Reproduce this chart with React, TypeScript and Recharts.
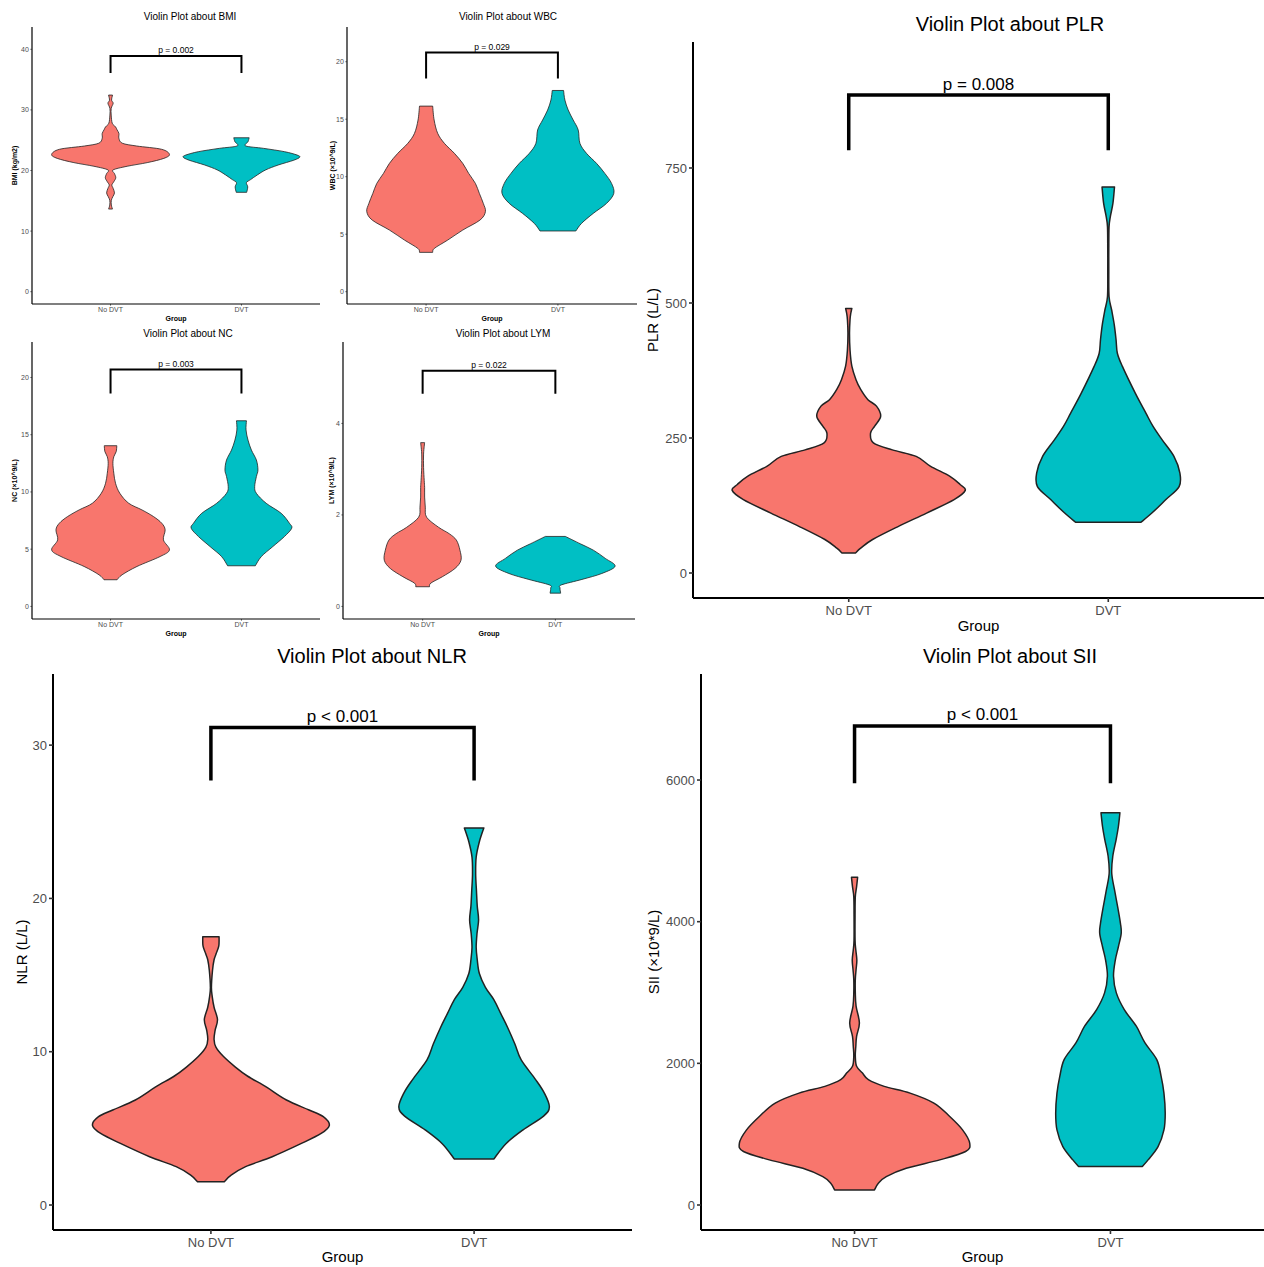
import React from "react";
import { ScatterChart, Scatter, XAxis, YAxis } from "recharts";

const FONT = '"Liberation Sans", Arial, Helvetica, sans-serif';

const groups = ["No DVT", "DVT"];
const fills = ["#F8766D", "#00BFC4"];

// violin outlines: [value, half width in x units]
type Profile = [number, number][];

const bmiNoDvt: Profile = [
  [13.64, 0.015], [14.3, 0.006], [15.1, 0.006], [15.7, 0.018], [16.3, 0.03], [17.05, 0.02], [17.6, 0.01],
  [18.15, 0.025], [18.8, 0.04], [19.5, 0.03], [20.1, 0.02], [20.7, 0.127], [21.3, 0.28], [22.0, 0.407],
  [22.66, 0.45], [23.5, 0.39], [24.04, 0.2], [24.5, 0.09], [25.3, 0.064], [26.1, 0.064], [26.7, 0.05],
  [27.2, 0.038], [27.8, 0.013], [29.15, 0.005], [30.25, 0.005], [31.1, 0.02], [31.6, 0.008], [32.45, 0.015],
];
const bmiDvt: Profile = [
  [16.4, 0.04], [17.3, 0.048], [18.0, 0.038], [18.5, 0.07], [19.25, 0.12], [20.1, 0.185], [20.9, 0.28],
  [21.7, 0.4], [22.2, 0.445], [22.55, 0.425], [23.1, 0.33], [23.65, 0.17], [24.05, 0.033], [24.75, 0.05],
  [25.4, 0.059],
];
const wbcNoDvt: Profile = [
  [3.42, 0.05], [3.77, 0.063], [4.49, 0.164], [5.36, 0.278], [6.23, 0.409], [6.96, 0.45], [7.68, 0.434],
  [8.55, 0.404], [9.42, 0.374], [10.29, 0.323], [11.16, 0.278], [12.03, 0.215], [12.9, 0.139],
  [13.77, 0.088], [14.93, 0.061], [16.14, 0.05],
];
const wbcDvt: Profile = [
  [5.28, 0.136], [5.94, 0.179], [6.81, 0.268], [7.68, 0.369], [8.55, 0.424], [9.42, 0.407], [10.29, 0.356],
  [11.16, 0.293], [12.03, 0.217], [12.9, 0.167], [14.06, 0.154], [14.93, 0.116], [15.8, 0.078],
  [16.67, 0.053], [17.5, 0.043],
];
const ncNoDvt: Profile = [
  [2.33, 0.05], [2.76, 0.088], [3.49, 0.202], [4.36, 0.379], [4.94, 0.45], [5.81, 0.404], [6.69, 0.417],
  [7.27, 0.391], [7.85, 0.328], [8.43, 0.24], [9.01, 0.139], [9.88, 0.071], [10.76, 0.038], [11.63, 0.025],
  [12.5, 0.018], [13.08, 0.025], [13.52, 0.043], [14.04, 0.048],
];
const ncDvt: Profile = [
  [3.55, 0.106], [4.36, 0.152], [5.23, 0.24], [6.1, 0.328], [6.83, 0.384], [7.27, 0.366], [8.14, 0.303],
  [9.01, 0.189], [9.88, 0.114], [10.47, 0.101], [11.34, 0.114], [11.92, 0.126], [12.79, 0.114],
  [13.66, 0.076], [14.53, 0.05], [15.41, 0.035], [16.22, 0.038],
];
const lymNoDvt: Profile = [
  [0.43, 0.052], [0.51, 0.062], [0.65, 0.149], [0.83, 0.244], [1.01, 0.289], [1.23, 0.281], [1.45, 0.254],
  [1.59, 0.2], [1.73, 0.12], [1.95, 0.03], [2.17, 0.02], [2.39, 0.015], [2.6, 0.015], [2.75, 0.012],
  [3.04, 0.007], [3.33, 0.007], [3.5, 0.012], [3.58, 0.015],
];
const lymDvt: Profile = [
  [0.29, 0.04], [0.4, 0.035], [0.47, 0.045], [0.59, 0.2], [0.72, 0.35], [0.88, 0.45], [1.05, 0.376],
  [1.23, 0.286], [1.37, 0.187], [1.53, 0.075],
];
const plrNoDvt: Profile = [
  [37, 0.026], [46, 0.046], [62, 0.092], [86, 0.19], [111, 0.3], [136, 0.406], [153, 0.449], [164, 0.429],
  [179, 0.39], [198, 0.314], [216, 0.26], [228, 0.168], [241, 0.095], [259, 0.084], [272, 0.1], [290, 0.123],
  [309, 0.107], [321, 0.074], [340, 0.046], [358, 0.028], [383, 0.012], [413, 0.005], [444, 0.003],
  [469, 0.005], [481, 0.008], [490, 0.012],
];
const plrDvt: Profile = [
  [94, 0.126], [111, 0.168], [136, 0.222], [160, 0.273], [185, 0.276], [216, 0.253], [247, 0.207],
  [272, 0.172], [296, 0.145], [333, 0.104], [383, 0.054], [407, 0.035], [432, 0.03], [460, 0.023],
  [487, 0.013], [512, 0.003], [560, 0.002], [600, 0.002], [641, 0.003], [660, 0.008], [685, 0.018],
  [715, 0.024],
];
const nlrNoDvt: Profile = [
  [1.52, 0.051], [1.96, 0.078], [2.5, 0.132], [3.15, 0.233], [4.0, 0.342], [4.67, 0.419], [5.2, 0.45],
  [5.76, 0.427], [6.2, 0.373], [6.85, 0.287], [7.7, 0.21], [8.4, 0.14], [9.0, 0.093], [9.7, 0.047],
  [10.3, 0.019], [10.8, 0.012], [11.4, 0.016], [12.1, 0.025], [12.9, 0.012], [13.6, 0.005], [14.2, 0.002],
  [15.3, 0.006], [16.0, 0.012], [16.4, 0.02], [16.9, 0.03], [17.5, 0.031],
];
const nlrDvt: Profile = [
  [3.0, 0.075], [4.0, 0.121], [4.9, 0.186], [5.8, 0.264], [6.4, 0.286], [7.3, 0.267], [8.2, 0.233],
  [9.46, 0.179], [10.5, 0.155], [11.6, 0.127], [12.5, 0.101], [13.4, 0.075], [14.2, 0.043], [15.1, 0.02],
  [16.0, 0.012], [16.8, 0.008], [17.7, 0.011], [18.6, 0.017], [19.5, 0.012], [20.5, 0.009], [21.6, 0.006],
  [22.7, 0.008], [23.7, 0.02], [24.6, 0.037],
];
const siiNoDvt: Profile = [
  [212, 0.078], [307, 0.093], [401, 0.124], [519, 0.202], [637, 0.333], [755, 0.434], [873, 0.45],
  [1061, 0.422], [1250, 0.372], [1439, 0.31], [1580, 0.217], [1675, 0.116], [1769, 0.054], [1863, 0.031],
  [1958, 0.008], [2099, 0.003], [2241, 0.005], [2382, 0.008], [2571, 0.019], [2807, 0.006], [2995, 0.003],
  [3184, 0.003], [3325, 0.006], [3458, 0.009], [3599, 0.005], [3740, 0.002], [4100, 0.002], [4354, 0.003],
  [4495, 0.008], [4627, 0.012],
];
const siiDvt: Profile = [
  [542, 0.124], [637, 0.147], [825, 0.186], [1061, 0.209], [1297, 0.214], [1580, 0.209], [1816, 0.198],
  [2052, 0.181], [2288, 0.135], [2524, 0.101], [2759, 0.054], [2995, 0.023], [3231, 0.012], [3458, 0.019],
  [3646, 0.031], [3835, 0.042], [3976, 0.039], [4212, 0.028], [4448, 0.016], [4684, 0.005], [4920, 0.009],
  [5156, 0.022], [5344, 0.031], [5538, 0.037],
];

// axis ticks
const bmiTicks = [0, 10, 20, 30, 40];
const wbcTicks = [0, 5, 10, 15, 20];
const ncTicks = [0, 5, 10, 15, 20];
const lymTicks = [0, 2, 4];
const plrTicks = [0, 250, 500, 750];
const nlrTicks = [0, 10, 20, 30];
const siiTicks = [0, 2000, 4000, 6000];

// significance brackets: [leg end, bar]
const bmiBracket = [36.1, 38.9];
const wbcBracket = [18.55, 20.8];
const ncBracket = [18.6, 20.7];
const lymBracket = [4.65, 5.15];
const plrBracket = [783, 885];
const nlrBracket = [27.7, 31.15];
const siiBracket = [5955, 6763];

const pLabels = ["p = 0.002", "p = 0.029", "p = 0.003", "p = 0.022", "p = 0.008", "p < 0.001", "p < 0.001"];

const small = { title: 10, tick: 7, axisTitle: 7, axisBold: 700, p: 8.5, axisW: 1.2, tickLen: 1.5, tickGap: 1.6, bracketW: 2, violinW: 0.8, pGap: 2.5 };
const big = { title: 20, tick: 13, axisTitle: 15, axisBold: 400, p: 17, axisW: 2, tickLen: 4, tickGap: 2, bracketW: 3.5, violinW: 1.5, pGap: 5.5 };

type Pt = { x: number; y: number };

const outline = (profile: Profile, center: number): Pt[] => [
  ...profile.map(([v, w]) => ({ x: center + w, y: v })),
  ...[...profile].reverse().map(([v, w]) => ({ x: center - w, y: v })),
];

// catmull-rom through one side of the violin
const spline = (pts: Pt[]) => {
  let d = "";
  for (let i = 0; i < pts.length - 1; i++) {
    const p0 = pts[i - 1] || pts[i];
    const p1 = pts[i];
    const p2 = pts[i + 1];
    const p3 = pts[i + 2] || p2;
    d += ` C${p1.x + (p2.x - p0.x) / 6},${p1.y + (p2.y - p0.y) / 6} ${p2.x - (p3.x - p1.x) / 6},${p2.y - (p3.y - p1.y) / 6} ${p2.x},${p2.y}`;
  }
  return d;
};

const violinLine = (fill: string, sw: number) => (props: any) => {
  const pts = (props.points || []) as Pt[];
  if (pts.length < 4) return <g />;
  const n = pts.length / 2;
  const right = pts.slice(0, n);
  const left = pts.slice(n);
  const d = `M${right[0].x},${right[0].y}${spline(right)} L${left[0].x},${left[0].y}${spline(left)} Z`;
  return <path d={d} fill={fill} stroke="#222" strokeWidth={sw} strokeLinejoin="round" />;
};

const noDot = () => <g />;

const pText = (label: string, fs: number, gap: number) => (props: any) => (
  <text x={props.cx} y={props.cy - gap} textAnchor="middle" fontSize={fs} fontFamily={FONT} fill="#000">
    {label}
  </text>
);

interface Box {
  cl: number; x0: number; x1: number; y0: number; y1: number; xh: number;
  labelX: number; groupOffset: number; titleX: number; titleY: number;
}

interface PanelProps {
  title: string;
  yLabel: string;
  ticks: number[];
  domain: [number, number];
  violins: Profile[];
  bracket: number[];
  pLabel: string;
  box: Box;
  isBig?: boolean;
}

const ViolinPanel = ({ title, yLabel, ticks, domain, violins, bracket, pLabel, box, isBig }: PanelProps) => {
  const s = isBig ? big : small;
  const width = box.x1 - box.cl;
  const height = box.y1 - box.y0 + box.xh;
  const bracketData = [
    { x: 1, y: bracket[0] },
    { x: 1, y: bracket[1] },
    { x: 2, y: bracket[1] },
    { x: 2, y: bracket[0] },
  ];
  return (
    <>
      <div
        style={{
          position: "absolute",
          left: box.titleX - 200,
          width: 400,
          top: box.titleY - s.title * 0.49,
          fontSize: s.title,
          lineHeight: `${s.title}px`,
          textAlign: "center",
          fontFamily: FONT,
          color: "#000",
          whiteSpace: "nowrap",
        }}
      >
        {title}
      </div>
      <div style={{ position: "absolute", left: box.cl, top: box.y0 }}>
        <ScatterChart width={width} height={height} margin={{ top: 0, right: 0, bottom: 0, left: 0 }}>
          <XAxis
            type="number"
            dataKey="x"
            domain={[0.4, 2.6]}
            ticks={[1, 2]}
            interval={0}
            allowDataOverflow
            height={box.xh}
            tickFormatter={(v: number) => groups[Math.round(v) - 1]}
            tick={{ fill: "#4D4D4D", fontSize: s.tick, fontFamily: FONT }}
            tickSize={s.tickLen}
            tickMargin={isBig ? 3.3 : 1.8}
            tickLine={{ stroke: "#333", strokeWidth: s.axisW * 0.8 }}
            axisLine={{ stroke: "#000", strokeWidth: s.axisW }}
            label={{
              value: "Group",
              position: "insideBottom",
              offset: box.groupOffset,
              fill: "#000",
              fontSize: s.axisTitle,
              fontWeight: s.axisBold,
              fontFamily: FONT,
            }}
          />
          <YAxis
            type="number"
            dataKey="y"
            domain={domain}
            ticks={ticks}
            interval={0}
            allowDataOverflow
            width={box.x0 - box.cl}
            tick={{ fill: "#4D4D4D", fontSize: s.tick, fontFamily: FONT }}
            tickSize={s.tickLen}
            tickMargin={s.tickGap}
            tickLine={{ stroke: "#333", strokeWidth: s.axisW * 0.8 }}
            axisLine={{ stroke: "#000", strokeWidth: s.axisW }}
            label={{
              value: yLabel,
              angle: -90,
              position: "insideLeft",
              offset: box.labelX - box.cl,
              fill: "#000",
              fontSize: s.axisTitle,
              fontWeight: s.axisBold,
              fontFamily: FONT,
              style: { textAnchor: "middle" },
            }}
          />
          {violins.map((p, i) => (
            <Scatter
              key={i}
              data={outline(p, i + 1)}
              fill={fills[i]}
              shape={noDot}
              line={violinLine(fills[i], s.violinW)}
              isAnimationActive={false}
            />
          ))}
          <Scatter
            data={bracketData}
            fill="#000"
            shape={noDot}
            line={{ stroke: "#000", strokeWidth: s.bracketW }}
            isAnimationActive={false}
          />
          <Scatter
            data={[{ x: 1.5, y: bracket[1] }]}
            fill="#000"
            shape={pText(pLabel, s.p, s.pGap)}
            isAnimationActive={false}
          />
        </ScatterChart>
      </div>
    </>
  );
};

const App: React.FC = () => {
  return (
    <div
      style={{
        position: "absolute",
        left: 0,
        top: 0,
        width: 1264,
        height: 1267,
        background: "#fff",
        overflow: "hidden",
        fontFamily: FONT,
      }}
    >
      <ViolinPanel
        title="Violin Plot about BMI"
        yLabel="BMI (kg/m2)"
        ticks={bmiTicks}
        domain={[-2.03, 43.68]}
        violins={[bmiNoDvt, bmiDvt]}
        bracket={bmiBracket}
        pLabel={pLabels[0]}
        box={{ cl: 0, x0: 32, x1: 320, y0: 27, y1: 304, xh: 20, labelX: 15, groupOffset: 3.3, titleX: 190, titleY: 17 }}
      />
      <ViolinPanel
        title="Violin Plot about WBC"
        yLabel="WBC (×10^9/L)"
        ticks={wbcTicks}
        domain={[-1.07, 23.02]}
        violins={[wbcNoDvt, wbcDvt]}
        bracket={wbcBracket}
        pLabel={pLabels[1]}
        box={{ cl: 325, x0: 347, x1: 637, y0: 27, y1: 304, xh: 20, labelX: 333, groupOffset: 3.3, titleX: 508, titleY: 17 }}
      />
      <ViolinPanel
        title="Violin Plot about NC"
        yLabel="NC (×10^9/L)"
        ticks={ncTicks}
        domain={[-1.1, 23.1]}
        violins={[ncNoDvt, ncDvt]}
        bracket={ncBracket}
        pLabel={pLabels[2]}
        box={{ cl: 0, x0: 32, x1: 320, y0: 342, y1: 619, xh: 20, labelX: 15, groupOffset: 3.3, titleX: 188, titleY: 334 }}
      />
      <ViolinPanel
        title="Violin Plot about LYM"
        yLabel="LYM (×10^9/L)"
        ticks={lymTicks}
        domain={[-0.275, 5.78]}
        violins={[lymNoDvt, lymDvt]}
        bracket={lymBracket}
        pLabel={pLabels[3]}
        box={{ cl: 325, x0: 343, x1: 635, y0: 342, y1: 619, xh: 20, labelX: 332, groupOffset: 3.3, titleX: 503, titleY: 334 }}
      />
      <ViolinPanel
        title="Violin Plot about PLR"
        yLabel="PLR (L/L)"
        ticks={plrTicks}
        domain={[-46.3, 983.3]}
        violins={[plrNoDvt, plrDvt]}
        bracket={plrBracket}
        pLabel={pLabels[4]}
        box={{ cl: 640, x0: 693, x1: 1264, y0: 42, y1: 598, xh: 40, labelX: 653, groupOffset: 6.6, titleX: 1010, titleY: 24 }}
        isBig
      />
      <ViolinPanel
        title="Violin Plot about NLR"
        yLabel="NLR (L/L)"
        ticks={nlrTicks}
        domain={[-1.63, 34.64]}
        violins={[nlrNoDvt, nlrDvt]}
        bracket={nlrBracket}
        pLabel={pLabels[5]}
        box={{ cl: 0, x0: 53, x1: 632, y0: 674, y1: 1230, xh: 37, labelX: 22, groupOffset: 4.6, titleX: 372, titleY: 656 }}
        isBig
      />
      <ViolinPanel
        title="Violin Plot about SII"
        yLabel="SII (×10*9/L)"
        ticks={siiTicks}
        domain={[-353, 7497]}
        violins={[siiNoDvt, siiDvt]}
        bracket={siiBracket}
        pLabel={pLabels[6]}
        box={{ cl: 640, x0: 701, x1: 1264, y0: 674, y1: 1230, xh: 37, labelX: 654, groupOffset: 4.6, titleX: 1010, titleY: 656 }}
        isBig
      />
    </div>
  );
};

export default App;
